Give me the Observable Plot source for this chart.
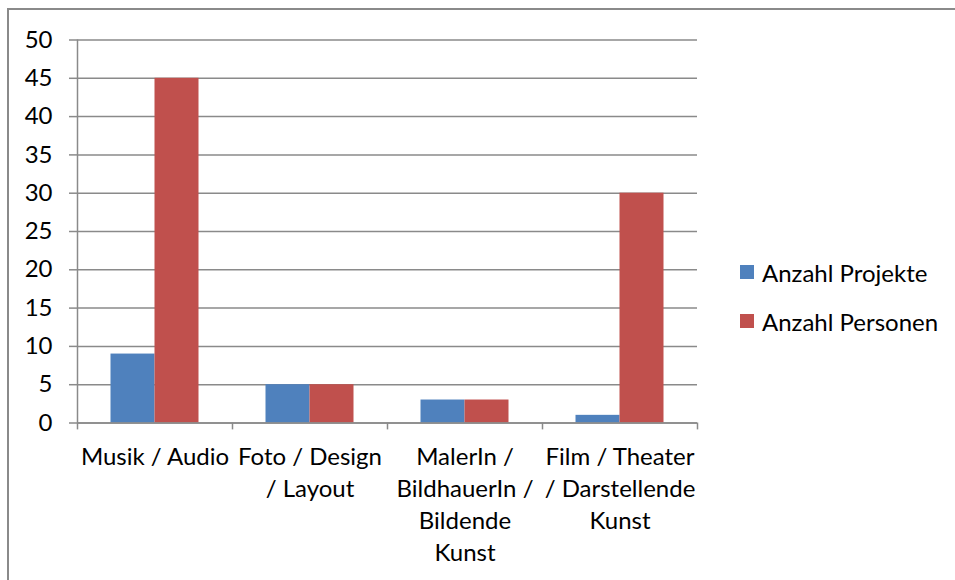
<!DOCTYPE html>
<html>
<head>
<meta charset="utf-8">
<script src="https://cdn.jsdelivr.net/npm/d3@7"></script>
<script src="https://cdn.jsdelivr.net/npm/@observablehq/plot@0.6"></script>
<style>
  html, body { margin: 0; padding: 0; background: #fff; }
  #wrap { position: relative; width: 955px; height: 580px; overflow: hidden; font-family: Lato, "Open Sans", sans-serif; }
  #border { position: absolute; left: 7px; top: 8px; width: 2000px; height: 2000px; border: 2px solid #8a8a8a; box-sizing: border-box; pointer-events: none; }
  #legend { position: absolute; left: 740px; top: 257px; font-size: 24px; color: #000; }
  .item { display: flex; align-items: center; height: 30px; margin-bottom: 19px; }
  .sw { width: 14px; height: 14px; margin-right: 8px; }
  #chart { position: absolute; left: 0; top: 0; }
</style>
</head>
<body>
<div id="wrap">
  <div id="border"></div>
  <div id="chart"></div>
  <div id="legend"></div>
</div>
<script>
const categories = ["Musik / Audio", "Foto / Design / Layout", "MalerIn / BildhauerIn / Bildende Kunst", "Film / Theater / Darstellende Kunst"];
const categoryLabels = ["Musik / Audio", "Foto / Design\n/ Layout", "MalerIn /\nBildhauerIn /\nBildende\nKunst", "Film / Theater\n/ Darstellende\nKunst"];
const series = ["Anzahl Projekte", "Anzahl Personen"];
const projekte = [9, 5, 3, 1];
const personen = [45, 5, 3, 30];
const yTicks = [0, 5, 10, 15, 20, 25, 30, 35, 40, 45, 50];
const colors = ["#4F81BD", "#C0504D"];

const rows = categories.flatMap((c, i) => [
  {category: c, series: series[0], value: projekte[i]},
  {category: c, series: series[1], value: personen[i]}
]);

const gray = "#8a8a8a";
const band = 155; // pixel width of one category
const half = band / 2;

const chart = Plot.plot({
  width: 955,
  height: 580,
  marginLeft: 77,
  marginRight: 258,
  marginTop: 39.5,
  marginBottom: 157.5,
  style: {fontFamily: "Lato, 'Open Sans', sans-serif", fontSize: "24px", color: "#000", background: "transparent", overflow: "visible"},
  x: {domain: categories, padding: 0, axis: null},
  y: {domain: [0, 50], axis: null},
  color: {domain: series, range: colors},
  marks: [
    Plot.gridY(yTicks, {stroke: gray, strokeOpacity: 1, strokeWidth: 1.5}),
    Plot.axisY(yTicks, {tickSize: 8, tickPadding: 17, stroke: gray, strokeOpacity: 1, strokeWidth: 1.5, fontSize: 24, fill: "#000", label: null}),
    Plot.barY(rows.filter(d => d.series === series[0]), {x: "category", y: "value", fill: "series", insetLeft: 33.5, insetRight: 77.5}),
    Plot.barY(rows.filter(d => d.series === series[1]), {x: "category", y: "value", fill: "series", insetLeft: 77.5, insetRight: 33.5}),
    Plot.ruleX([categories[0]], {x: d => d, dx: -half, y1: 0, y2: 50, stroke: gray, strokeWidth: 1.5}),
    Plot.ruleY([0], {stroke: gray, strokeWidth: 1.5}),
    Plot.ruleX(categories, {x: d => d, dx: -half, y1: 0, y2: -0.9, stroke: gray, strokeWidth: 1.5}),
    Plot.ruleX([categories[categories.length - 1]], {x: d => d, dx: half, y1: 0, y2: -0.9, stroke: gray, strokeWidth: 1.5}),
    Plot.text(categories, {x: d => d, y: 0, text: (d, i) => categoryLabels[i], dy: 19, lineAnchor: "top", lineHeight: 32 / 24, fontSize: 24, fill: "#000"})
  ]
});
document.getElementById("chart").appendChild(chart);

const legend = document.getElementById("legend");
series.forEach((s, i) => {
  const item = document.createElement("div");
  item.className = "item";
  const sw = document.createElement("span");
  sw.className = "sw";
  sw.style.background = colors[i];
  const t = document.createElement("span");
  t.textContent = s;
  item.appendChild(sw);
  item.appendChild(t);
  legend.appendChild(item);
});
</script>
</body>
</html>
